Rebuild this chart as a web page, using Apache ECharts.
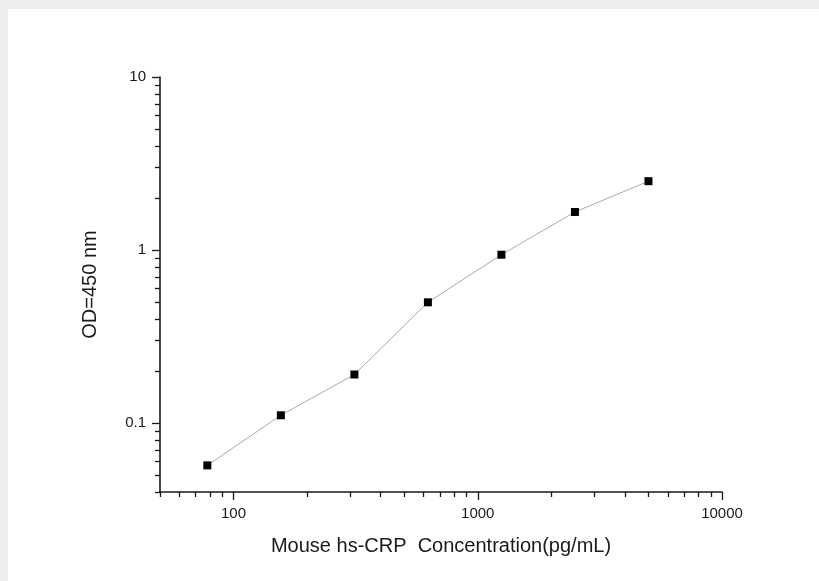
<!DOCTYPE html>
<html>
<head>
<meta charset="utf-8">
<script src="https://cdn.jsdelivr.net/npm/echarts@6/dist/echarts.min.js"></script>
<style>
html,body{margin:0;padding:0;background:#eeeeee;}
#c{width:819px;height:581px;}
</style>
</head>
<body>
<div id="c"></div>
<script>
const concentrations = [78.125, 156.25, 312.5, 625, 1250, 2500, 5000];
const odValues = [0.057, 0.111, 0.191, 0.499, 0.94, 1.66, 2.50];
const xMajorTicks = [100, 1000, 10000];
const xMinorTicks = [50, 60, 70, 80, 90, 200, 300, 400, 500, 600, 700, 800, 900, 2000, 3000, 4000, 5000, 6000, 7000, 8000, 9000];
const yMajorTicks = [0.1, 1, 10];
const yMinorTicks = [0.04, 0.05, 0.06, 0.07, 0.08, 0.09, 0.2, 0.3, 0.4, 0.5, 0.6, 0.7, 0.8, 0.9, 2, 3, 4, 5, 6, 7, 8, 9];
const xName = 'Mouse hs-CRP  Concentration(pg/mL)';
const yName = 'OD=450 nm';

const chart = echarts.init(document.getElementById('c'), null, {renderer: 'canvas'});
const font = 'Liberation Sans, Arial, sans-serif';
const axisColor = '#1a1a1a';
const grid = {left: 160, right: 97, top: 77, bottom: 89};
function xAx(show, ticks, len, withLabels) {
  return {
    type: 'log', logBase: 10, min: 50, max: 10000,
    position: 'bottom',
    axisLine: {show: show, onZero: false, lineStyle: {color: axisColor, width: 1.6}},
    axisTick: {show: true, inside: false, length: len, customValues: ticks, lineStyle: {color: axisColor, width: 1.3}},
    axisLabel: {show: withLabels, customValues: withLabels ? xMajorTicks : undefined, color: axisColor, fontSize: 15, fontFamily: font, margin: 14,
      formatter: v => String(v)},
    splitLine: {show: false},
    minorTick: {show: false},
    name: withLabels ? xName : '',
    nameLocation: 'middle', nameGap: 44,
    nameTextStyle: {color: axisColor, fontSize: 20, fontFamily: font}
  };
}
function yAx(show, ticks, len, withLabels) {
  return {
    type: 'log', logBase: 10, min: 0.04, max: 10,
    position: 'left',
    axisLine: {show: show, onZero: false, lineStyle: {color: axisColor, width: 1.6}},
    axisTick: {show: true, inside: false, length: len, customValues: ticks, lineStyle: {color: axisColor, width: 1.3}},
    axisLabel: {show: withLabels, customValues: withLabels ? yMajorTicks : undefined, color: axisColor, fontSize: 15, fontFamily: font, margin: 14,
      formatter: v => String(v)},
    splitLine: {show: false},
    name: withLabels ? yName : '',
    nameLocation: 'middle', nameGap: 60, nameRotate: 90,
    nameTextStyle: {color: axisColor, fontSize: 20, fontFamily: font}
  };
}
chart.setOption({
  animation: false,
  backgroundColor: '#eeeeee',
  graphic: [{type: 'rect', left: 8, top: 9, shape: {width: 811, height: 572}, style: {fill: '#ffffff'}, z: -10, silent: true}],
  grid: grid,
  xAxis: [xAx(true, xMajorTicks, 8, true), xAx(false, xMinorTicks, 5, false)],
  yAxis: [yAx(true, yMajorTicks, 8, true), yAx(false, yMinorTicks, 5, false)],
  series: [{
    type: 'line',
    data: concentrations.map((c, i) => [c, odValues[i]]),
    symbol: 'rect', symbolSize: 8,
    itemStyle: {color: '#000'},
    lineStyle: {color: '#aaaaaa', width: 1},
    z: 3
  }]
});
</script>
</body>
</html>
